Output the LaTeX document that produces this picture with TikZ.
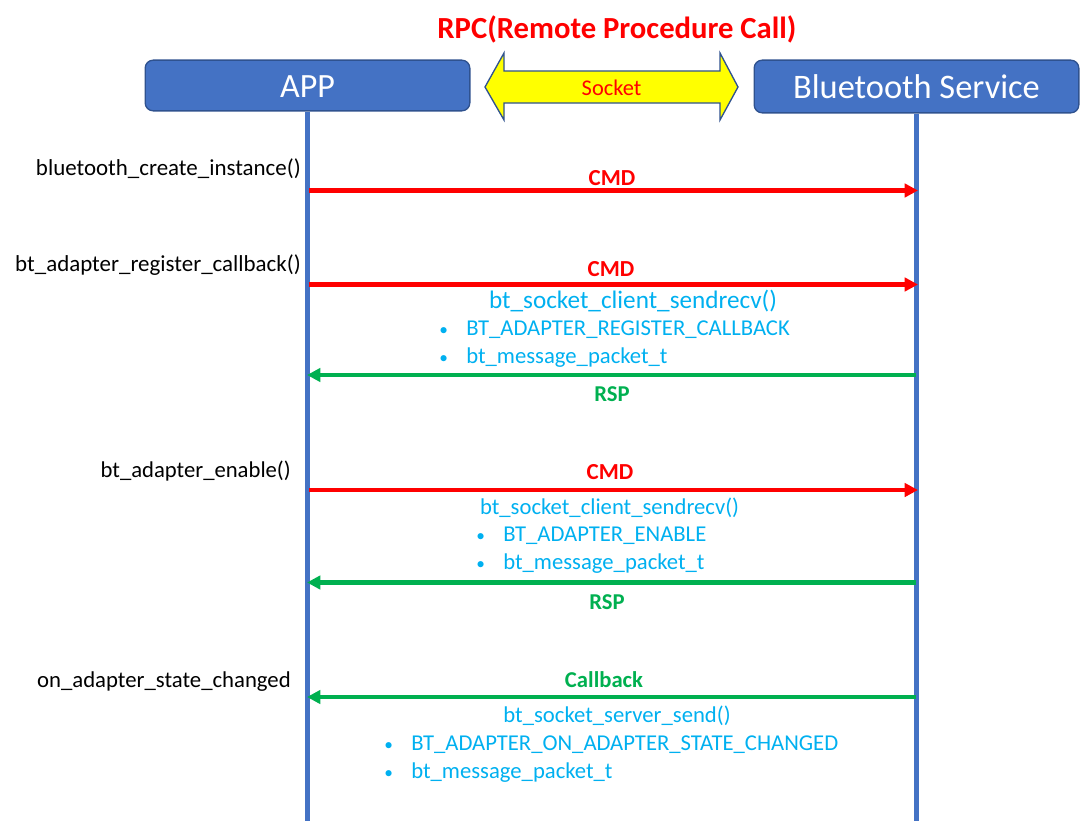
\documentclass[tikz,border=0pt]{standalone}
\usepackage{fontspec}
\setmainfont{Carlito}
\usetikzlibrary{arrows.meta}
\definecolor{boxblue}{HTML}{4472C4}
\definecolor{boxedge}{HTML}{2F528F}
\definecolor{msggreen}{HTML}{00B050}
\definecolor{msgblue}{HTML}{00B0F0}
\definecolor{socketyellow}{HTML}{FFFF00}
\definecolor{msgred}{HTML}{FF0000}
\tikzset{
  actor/.style={draw=boxedge,fill=boxblue,line width=1pt,rounded corners=6pt,text=white,font=\fontsize{25.5}{30}\selectfont,inner sep=0pt,minimum width=243.5pt},
  lifeline/.style={draw=boxblue,line width=3.6pt},
  cmdline/.style={draw=msgred,line width=3.2pt,-{Triangle[length=10pt,width=10pt]}},
  rspline/.style={draw=msggreen,line width=3.2pt,-{Triangle[length=10pt,width=10pt]}},
  apilabel/.style={font=\fontsize{17.2}{20}\selectfont,anchor=mid east,inner sep=0pt},
  cmdlabel/.style={text=msgred,font=\fontsize{17.2}{20}\selectfont\bfseries,anchor=mid,inner sep=0pt},
  rsplabel/.style={text=msggreen,font=\fontsize{17}{20}\selectfont\bfseries,anchor=mid,inner sep=0pt},
  calllabel/.style={text=msgblue,font=\fontsize{17}{20}\selectfont,anchor=mid,inner sep=0pt},
  itemlabel/.style={text=msgblue,font=\fontsize{17}{20}\selectfont,anchor=mid west,inner sep=0pt},
  itemdot/.style={text=msgblue,font=\fontsize{13}{20}\selectfont,anchor=mid west,inner sep=0pt},
}
\begin{document}
\begin{tikzpicture}[x=0.75pt,y=-0.75pt]
    \useasboundingbox (0,0) rectangle (1080,824);

    % Draw the title and the two actors
    \node[text=msgred,font=\fontsize{23}{27}\selectfont\bfseries,anchor=mid,inner sep=0pt] (title) at (617,35) {RPC(Remote Procedure Call)};
    \node[actor,minimum height=38pt,text depth=0pt,text height=18pt] (app) at (307.5,85.5) {APP};
    \node[actor,minimum height=39.5pt,font=\fontsize{25.8}{30}\selectfont] (service) at (916.5,86.5) {Bluetooth Service};

    % Draw the socket arrow between them
    \draw[boxedge,fill=socketyellow,line width=1pt] (485,87) -- (504,53) -- (504,71) -- (720,71) -- (720,53) -- (738,87) -- (720,120) -- (720,103) -- (504,103) -- (504,120) -- cycle;
    \node[text=msgred,font=\fontsize{16.8}{20}\selectfont,anchor=mid,inner sep=0pt] (socket) at (611.5,92) {Socket};

    % Draw the lifelines
    \coordinate (appEnd) at (307.5,821);
    \coordinate (serviceEnd) at (916.5,821);
    \draw[lifeline] (app.south) -- (appEnd);
    \draw[lifeline] (service.south) -- (serviceEnd);

    % Draw bluetooth_create_instance
    \coordinate (appA) at (309,190.5);
    \coordinate (serviceA) at (918,190.5);
    \node[apilabel] (createApi) at (301,172) {bluetooth\_create\_instance()};
    \node[cmdlabel] (createCmd) at (612,182) {CMD};
    \draw[cmdline] (appA) -- (serviceA);

    % Draw bt_adapter_register_callback
    \coordinate (appB) at (309,284.5);
    \coordinate (serviceB) at (918,284.5);
    \coordinate (appC) at (307,375);
    \coordinate (serviceC) at (916,375);
    \node[apilabel] (registerApi) at (301,268) {bt\_adapter\_register\_callback()};
    \node[cmdlabel] (registerCmd) at (611,273) {CMD};
    \draw[cmdline] (appB) -- (serviceB);
    \node[calllabel,font=\fontsize{18.9}{22}\selectfont] (registerCall) at (633,305) {bt\_socket\_client\_sendrecv()};
    \node[itemdot] (registerDot) at (439,332) {•};
    \node[itemlabel] (registerItem) at (466,332) {BT\_ADAPTER\_REGISTER\_CALLBACK};
    \node[itemdot] (registerDotB) at (439,360) {•};
    \node[itemlabel] (registerItemB) at (466,360) {bt\_message\_packet\_t};
    \draw[rspline] (serviceC) -- (appC);
    \node[rsplabel] (registerRsp) at (612,398) {RSP};

    % Draw bt_adapter_enable
    \coordinate (appD) at (309,490);
    \coordinate (serviceD) at (918,490);
    \coordinate (appE) at (307,582.5);
    \coordinate (serviceE) at (916,582.5);
    \node[apilabel,font=\fontsize{17}{20}\selectfont] (enableApi) at (291,474) {bt\_adapter\_enable()};
    \node[cmdlabel] (enableCmd) at (610,476) {CMD};
    \draw[cmdline] (appD) -- (serviceD);
    \node[calllabel] (enableCall) at (609.5,511) {bt\_socket\_client\_sendrecv()};
    \node[itemdot] (enableDot) at (476,538) {•};
    \node[itemlabel] (enableItem) at (503,538) {BT\_ADAPTER\_ENABLE};
    \node[itemdot] (enableDotB) at (476,566) {•};
    \node[itemlabel] (enableItemB) at (503,566) {bt\_message\_packet\_t};
    \draw[rspline] (serviceE) -- (appE);
    \node[rsplabel] (enableRsp) at (607,606) {RSP};

    % Draw on_adapter_state_changed
    \coordinate (appF) at (307,697);
    \coordinate (serviceF) at (916,697);
    \node[apilabel,font=\fontsize{17.05}{20}\selectfont] (stateApi) at (291,684) {on\_adapter\_state\_changed};
    \node[rsplabel] (stateCallback) at (604,684) {Callback};
    \draw[rspline] (serviceF) -- (appF);
    \node[calllabel] (stateCall) at (617,719) {bt\_socket\_server\_send()};
    \node[itemdot] (stateDot) at (384,747) {•};
    \node[itemlabel] (stateItem) at (411,747) {BT\_ADAPTER\_ON\_ADAPTER\_STATE\_CHANGED};
    \node[itemdot] (stateDotB) at (384,775) {•};
    \node[itemlabel] (stateItemB) at (411,775) {bt\_message\_packet\_t};
\end{tikzpicture}
\end{document}
